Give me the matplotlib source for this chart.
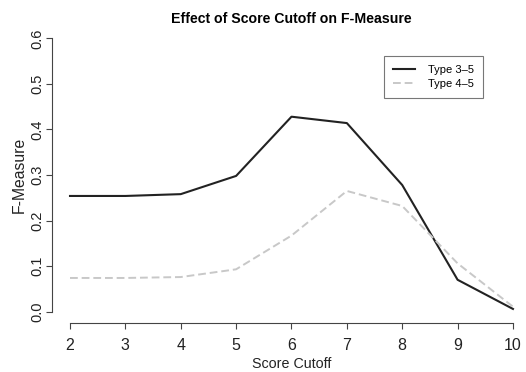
import numpy as np
import matplotlib
matplotlib.use('Agg')
import matplotlib.pyplot as plt

plt.rcParams['font.family'] = ['Liberation Sans', 'DejaVu Sans']

# score cutoff values
cutoff = [2, 3, 4, 5, 6, 7, 8, 9, 10]
# F-measure
type35 = [0.254, 0.254, 0.258, 0.298, 0.428, 0.414, 0.278, 0.070, 0.006]
type45 = [0.074, 0.074, 0.076, 0.093, 0.167, 0.265, 0.232, 0.106, 0.011]
yticks = [0.0, 0.1, 0.2, 0.3, 0.4, 0.5, 0.6]
xticks = [2, 3, 4, 5, 6, 7, 8, 9, 10]

fig = plt.figure(figsize=(5.26, 3.72), dpi=100)
ax = fig.add_axes([0.0994, 0.1328, 0.9095, 0.7935])

ax.plot(cutoff, type35, color='#222222', lw=1.5, label='Type 3\u20135')
ax.plot(cutoff, type45, color='#c8c8c8', lw=1.4, linestyle=(0, (4.0, 2.0)), label='Type 4\u20135')

# R style axes: 4% padding, axis lines only over tick range
ax.set_xlim(1.68, 10.32)
ax.set_ylim(-0.024, 0.624)
for s in ['top', 'right']:
    ax.spines[s].set_visible(False)
ax.spines['left'].set_bounds(0.0, 0.6)
ax.spines['bottom'].set_bounds(2, 10)
for s in ['left', 'bottom']:
    ax.spines[s].set_color('#444444')
    ax.spines[s].set_linewidth(0.8)

ax.set_xticks(xticks)
ax.set_xticklabels([str(v) for v in xticks])
ax.set_yticks(yticks)
ax.set_yticklabels(['%.1f' % v for v in yticks], rotation=90, va='center')
ax.tick_params(direction='out', length=4.5, width=0.8, color='#444444',
               labelcolor='#222222')
ax.tick_params(axis='x', labelsize=11.5, pad=6.5)
ax.tick_params(axis='y', labelsize=10.5, pad=1.5)

ax.set_title('Effect of Score Cutoff on F-Measure', fontsize=10.2,
             fontweight='bold', x=(291.5 - 52.3) / 478.4, pad=3)
ax.set_xlabel('Score Cutoff', fontsize=10.3, color='#222222', labelpad=3)
ax.set_ylabel('F-Measure', fontsize=11.3, color='#222222', labelpad=2)

leg = ax.legend(loc='upper left', bbox_to_anchor=((384 - 52.3) / 478.4, 1 - (55.7 - 27.4) / 295.2),
                fontsize=8, frameon=True, fancybox=False, handlelength=1.9,
                borderpad=0.85, handletextpad=1.2, labelspacing=0.35,
                borderaxespad=0)
leg.get_frame().set_edgecolor('#555555')
leg.get_frame().set_linewidth(0.8)

fig.savefig('out.png', dpi=100)
